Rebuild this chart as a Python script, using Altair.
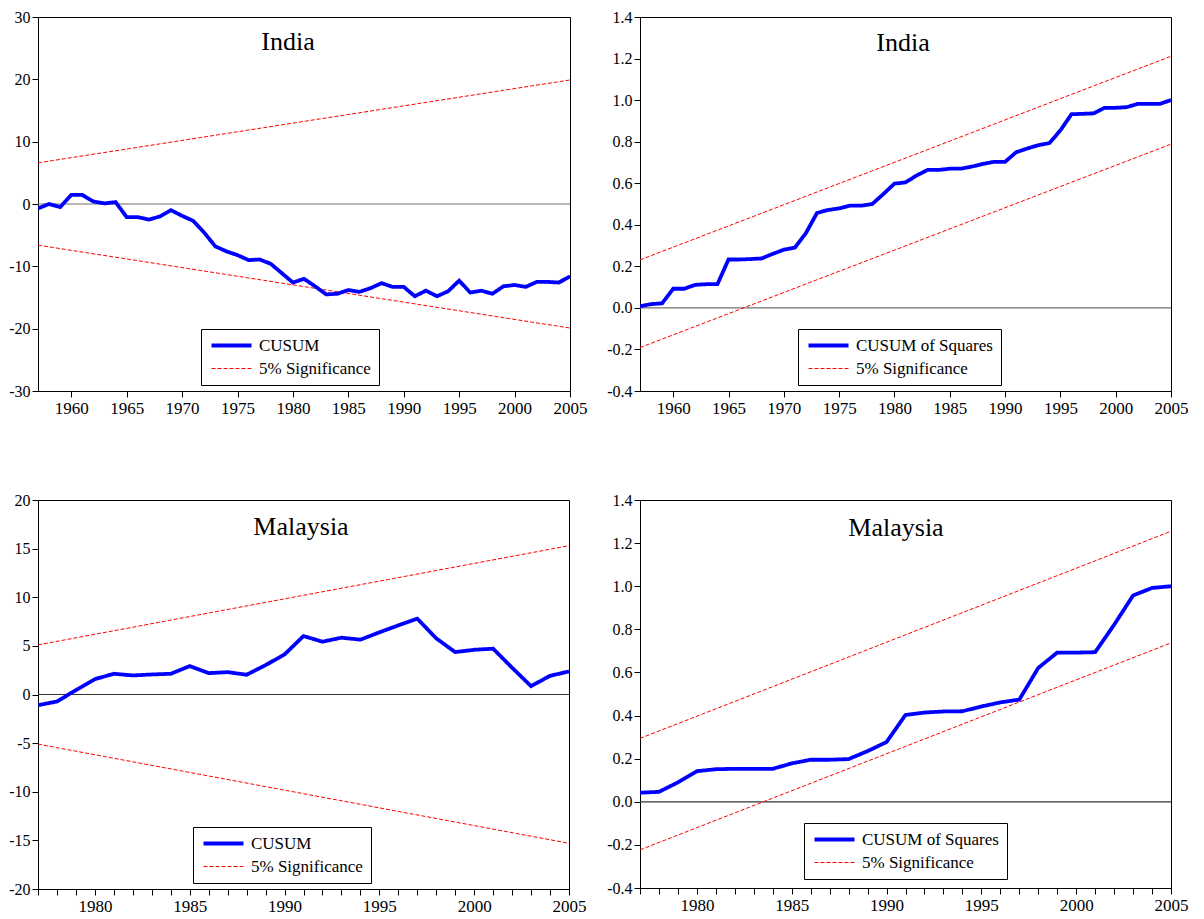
import altair as alt
import pandas as pd

# ---------------- data ----------------
india_years = list(range(1957, 2006))
india_cusum = [-0.7, 0.0, -0.5, 1.45, 1.45, 0.4, 0.1, 0.3, -2.1, -2.1,
               -2.5, -2.0, -1.0, -1.9, -2.7, -4.6, -6.8, -7.6, -8.2, -9.0,
               -8.9, -9.6, -11.1, -12.6, -12.0, -13.2, -14.5, -14.4, -13.8, -14.1,
               -13.5, -12.7, -13.3, -13.3, -14.8, -13.9, -14.8, -14.0, -12.3, -14.2,
               -13.9, -14.4, -13.2, -13.0, -13.3, -12.5, -12.5, -12.6, -11.6]
india_cusum_upper = [6.6, 19.9]
india_cusum_lower = [-6.6, -19.9]

india_cusumsq = [0.008, 0.018, 0.022, 0.092, 0.092, 0.111, 0.114, 0.114, 0.233, 0.233,
                 0.235, 0.238, 0.26, 0.28, 0.29, 0.36, 0.457, 0.471, 0.479, 0.492,
                 0.492, 0.5, 0.548, 0.598, 0.604, 0.637, 0.664, 0.664, 0.67, 0.67,
                 0.68, 0.693, 0.703, 0.703, 0.749, 0.767, 0.783, 0.793, 0.854, 0.932,
                 0.934, 0.936, 0.963, 0.963, 0.966, 0.982, 0.982, 0.982, 1.0]
india_cusumsq_upper = [0.231, 1.211]
india_cusumsq_lower = [-0.191, 0.788]

malaysia_years = list(range(1977, 2006))
malaysia_cusum = [-1.1, -0.72, 0.45, 1.58, 2.13, 1.96, 2.06, 2.13, 2.92, 2.2,
                  2.3, 2.03, 3.02, 4.12, 6.01, 5.43, 5.84, 5.64, 6.39, 7.11,
                  7.8, 5.77, 4.36, 4.6, 4.71, 2.75, 0.86, 1.92, 2.37]
malaysia_cusum_upper = [5.1, 15.3]
malaysia_cusum_lower = [-5.1, -15.3]

malaysia_cusumsq = [0.042, 0.046, 0.09, 0.142, 0.151, 0.153, 0.153, 0.153, 0.178, 0.195,
                    0.195, 0.198, 0.235, 0.277, 0.403, 0.414, 0.419, 0.42, 0.442, 0.461,
                    0.474, 0.621, 0.692, 0.692, 0.694, 0.821, 0.957, 0.992, 1.0]
malaysia_cusumsq_upper = [0.294, 1.255]
malaysia_cusumsq_lower = [-0.223, 0.737]

sig_label = "5% Significance"
FONT = "Liberation Serif"


def build_df(years, values, upper, lower, stat_label):
    ends = [years[0], years[-1]]
    rows = []
    for yr, v in zip(ends, upper):
        rows.append({"year": yr, "value": v, "series": sig_label, "line": "a_upper"})
    for yr, v in zip(ends, lower):
        rows.append({"year": yr, "value": v, "series": sig_label, "line": "b_lower"})
    for yr, v in zip(years, values):
        rows.append({"year": yr, "value": v, "series": stat_label, "line": "c_stat"})
    return pd.DataFrame(rows)


def make_legend(leg_x, leg_y):
    return alt.Legend(title=None, orient="none", legendX=leg_x, legendY=leg_y,
                      direction="vertical", fillColor="white", strokeColor="black",
                      padding=8, labelFont=FONT, labelFontSize=17, labelColor="black",
                      symbolType="M-3,0L17,0", symbolSize=16, labelOffset=33,
                      rowPadding=5, symbolOffset=0)


def panel(title, years, values, upper, lower, stat_label, ydomain, ystep, yfmt,
          every_year_ticks, w, h, title_x, title_y, leg_x, leg_y, zero_color):
    df = build_df(years, values, upper, lower, stat_label)
    x0, x1 = years[0], years[-1]
    if every_year_ticks:
        xvals = list(range(x0, x1 + 1))
        xlabel_expr = "datum.value % 5 == 0 ? datum.label : ''"
    else:
        first = x0 + (-x0) % 5
        xvals = list(range(first, x1 + 1, 5))
        xlabel_expr = "datum.label"
    n = int(round((ydomain[1] - ydomain[0]) / ystep))
    yvals = [round(ydomain[0] + i * ystep, 6) for i in range(n + 1)]
    ylabel_expr = ("datum.value < 0 ? '-' + format(-datum.value, '%s') : format(datum.value, '%s')"
                   % (yfmt, yfmt))

    axis_common = dict(title=None, grid=False, labelFlush=False, labelOverlap=False,
                       labelFont=FONT, labelColor="black",
                       domainColor="black", tickColor="black", tickSize=6)
    x_enc = alt.X("year:Q",
                  scale=alt.Scale(domain=[x0, x1], nice=False, zero=False),
                  axis=alt.Axis(values=xvals, format="d", labelExpr=xlabel_expr,
                                labelBound=False, labelPadding=3, labelFontSize=17,
                                **axis_common))
    y_enc = alt.Y("value:Q",
                  scale=alt.Scale(domain=ydomain, nice=False, zero=False),
                  axis=alt.Axis(values=yvals, labelExpr=ylabel_expr, labelPadding=2,
                                labelFontSize=16, **axis_common))

    dom = [stat_label, sig_label]
    leg = make_legend(leg_x, leg_y)
    lines = alt.Chart(df).mark_line(clip=True).encode(
        x=x_enc,
        y=y_enc,
        detail="line:N",
        color=alt.Color("series:N", scale=alt.Scale(domain=dom, range=["#0000ff", "#ff0000"]),
                        legend=leg),
        strokeDash=alt.StrokeDash("series:N",
                                  scale=alt.Scale(domain=dom, range=[[1, 0], [4, 2]]),
                                  legend=leg),
        strokeWidth=alt.StrokeWidth("series:N",
                                    scale=alt.Scale(domain=dom, range=[3.8, 1.0]),
                                    legend=leg),
    )

    zero = alt.Chart(pd.DataFrame({"z": [0]})).mark_rule(color=zero_color, strokeWidth=1.2).encode(
        y=alt.Y("z:Q"))

    ttl = alt.Chart(pd.DataFrame({"t": [title]})).mark_text(
        font=FONT, fontSize=26, color="black", baseline="alphabetic", align="center"
    ).encode(x=alt.value(title_x), y=alt.value(title_y), text="t:N")

    return alt.layer(zero, lines, ttl).properties(width=w, height=h)


p1 = panel("India", india_years, india_cusum, india_cusum_upper, india_cusum_lower,
           "CUSUM", [-30, 30], 10, ".0f", False, 532, 374, 250, 33, 163, 312, "#707070")
p2 = panel("India", india_years, india_cusumsq, india_cusumsq_upper, india_cusumsq_lower,
           "CUSUM of Squares", [-0.4, 1.4], 0.2, ".1f", False, 531, 374, 263, 34, 158, 312,
           "#707070")
p3 = panel("Malaysia", malaysia_years, malaysia_cusum, malaysia_cusum_upper, malaysia_cusum_lower,
           "CUSUM", [-20, 20], 5, ".0f", True, 531, 389, 263, 35, 155, 327, "#333333")
p4 = panel("Malaysia", malaysia_years, malaysia_cusumsq, malaysia_cusumsq_upper,
           malaysia_cusumsq_lower, "CUSUM of Squares", [-0.4, 1.4], 0.2, ".1f", True,
           531, 388, 256, 36, 164, 323, "#333333")

chart = alt.concat(p1, p2, p3, p4, columns=2, spacing={"row": 109, "column": 70},
                   bounds="flush").resolve_scale(
    x="independent", y="independent", color="independent",
    strokeDash="independent", strokeWidth="independent"
).resolve_legend(color="independent", strokeDash="independent",
                 strokeWidth="independent").configure(
    padding=0, background="white"
).configure_view(
    stroke="black", strokeWidth=1
).configure_axis(
    domainColor="black", tickColor="black", labelColor="black", labelFont=FONT,
    domainWidth=1, tickWidth=1
).configure_legend(
    labelFont=FONT, labelFontSize=17, labelColor="black"
)

chart.save("out.html", embed_options={"renderer": "svg", "actions": False})
